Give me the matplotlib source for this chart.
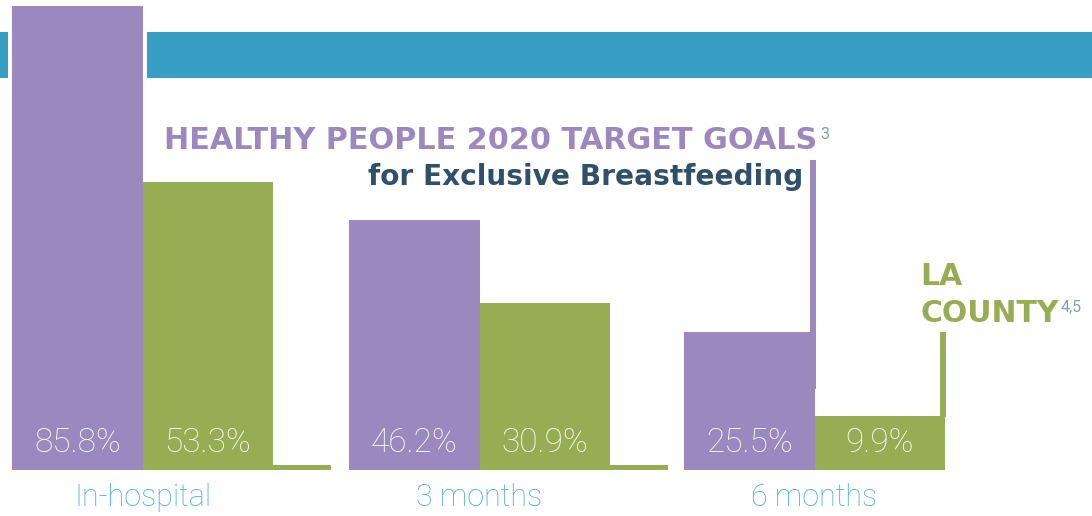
import matplotlib
matplotlib.use("Agg")
import matplotlib.pyplot as plt
from matplotlib.patches import Rectangle

# ---- data ----
categories = ["In-hospital", "3 months", "6 months"]
hp2020_target = [85.8, 46.2, 25.5]
la_county = [53.3, 30.9, 9.9]
target_labels = ["85.8%", "46.2%", "25.5%"]
county_labels = ["53.3%", "30.9%", "9.9%"]

# ---- style ----
PURPLE = "#9B88BF"
GREEN = "#97AD53"
BLUE = "#379EC4"
TEAL = "#2E5169"
CAT_BLUE = "#4AAAD3"
GRAY = "#8A9BAA"

W, H = 1092, 516
BASE = 470.0      # baseline pixel row (from top)
SCALE = 5.41      # pixels per percentage point

fig = plt.figure(figsize=(W / 100, H / 100), dpi=100)
ax = fig.add_axes([0, 0, 1, 1])
ax.set_xlim(0, W)
ax.set_ylim(-(H - BASE) / SCALE, BASE / SCALE)
ax.axis("off")


def py(ypx):
    """pixel row from top -> data y"""
    return (BASE - ypx) / SCALE


# blue band at the top
ax.add_patch(Rectangle((0, py(78)), 8, py(32) - py(78), color=BLUE, lw=0, zorder=1))
ax.add_patch(Rectangle((147, py(78)), W - 147, py(32) - py(78), color=BLUE, lw=0, zorder=1))

group_left = [12, 349, 684]
bw = 130.5

purple_x = [g for g in group_left]
green_x = [g + bw for g in group_left]

ax.bar(purple_x, hp2020_target, width=bw, align="edge", color=PURPLE, zorder=2, lw=0)
ax.bar(green_x, la_county, width=bw, align="edge", color=GREEN, zorder=2, lw=0)

# decorative connector strips
for g in group_left[:2]:
    ax.add_patch(Rectangle((g + 2 * bw, 0), 58, 5 / SCALE, color=GREEN, lw=0, zorder=2))
# purple leader line on the third group
ax.add_patch(Rectangle((810, py(389)), 6, py(160) - py(389), color=PURPLE, lw=0, zorder=3))
# green leader line on the third group
ax.add_patch(Rectangle((939.5, py(417)), 6.5, py(332) - py(417), color=GREEN, lw=0, zorder=3))

# value labels
for i in range(3):
    ax.text(purple_x[i] + bw / 2, py(443), target_labels[i], ha="center", va="center",
            color="white", fontsize=24, family="Roboto", fontweight="light", zorder=4)
    ax.text(green_x[i] + bw / 2, py(443), county_labels[i], ha="center", va="center",
            color="white", fontsize=24, family="Roboto", fontweight="light", zorder=4)
    ax.text(group_left[i] + bw, py(506), categories[i], ha="center", va="baseline",
            color=CAT_BLUE, fontsize=22, family="Roboto", fontweight="light", zorder=4)

# titles
TF = "DejaVu Sans"
ax.text(817, py(149), "HEALTHY PEOPLE 2020 TARGET GOALS", ha="right", va="baseline",
        color=PURPLE, fontsize=21.8, family=TF, fontweight="bold", zorder=4)
ax.text(820, py(139), "3", ha="left", va="baseline", color=GRAY, fontsize=11.5,
        family="Roboto", fontweight="normal", zorder=4)
ax.text(803, py(185), "for Exclusive Breastfeeding", ha="right", va="baseline",
        color=TEAL, fontsize=20.2, family=TF, fontweight="bold", zorder=4)

ax.text(920, py(285), "LA", ha="left", va="baseline", color=GREEN, fontsize=21.5,
        family=TF, fontweight="bold", zorder=4)
ax.text(920, py(322), "COUNTY", ha="left", va="baseline", color=GREEN, fontsize=21.5,
        family=TF, fontweight="bold", zorder=4)
ax.text(1061, py(312), "4,5", ha="left", va="baseline", color=GRAY, fontsize=11.5,
        family="Roboto", fontweight="normal", zorder=4)

fig.savefig("out.png", dpi=100)
